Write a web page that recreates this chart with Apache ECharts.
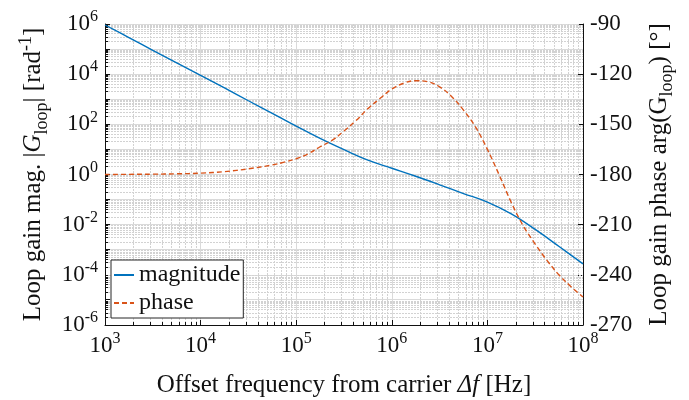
<!DOCTYPE html>
<html><head><meta charset="utf-8">
<script src="https://cdn.jsdelivr.net/npm/echarts@6/dist/echarts.min.js"></script>
<style>html,body{margin:0;padding:0;background:#fff}#c{width:689px;height:400px}</style>
</head><body><div id="c"></div>
<script>
// ---- data ----
const freqMag = [1000, 1778, 3162, 5623, 1e4, 17780, 31620, 56230, 1e5, 177800, 316200, 562300,
  1e6, 1.778e6, 3.162e6, 5.623e6, 1e7, 1.778e7, 3.162e7, 5.623e7, 1e8];
const magnitude = [9.12e5, 2.88e5, 8.91e4, 2.82e4, 8.91e3, 2.82e3, 871, 275, 85.1, 27.5, 9.77, 3.72,
  1.78, 0.851, 0.389, 0.174, 0.0794, 0.0269, 6.46e-3, 1.35e-3, 2.75e-4];
const freqPhase = [1000, 1778, 3162, 5623, 1e4, 17780, 31620, 56230,
  74990, 1e5, 133400, 177800, 237100, 316200, 421700, 562300, 749900,
  1e6, 1.334e6, 1.778e6, 2.371e6, 3.162e6, 4.217e6, 5.623e6, 7.499e6,
  1e7, 1.334e7, 1.778e7, 2.371e7, 3.162e7, 4.217e7, 5.623e7, 7.499e7, 1e8];
const phaseDeg = [-180, -179.9, -179.8, -179.6, -179.2, -178.3, -176.6, -174.3,
  -172.6, -170.6, -167.6, -163.4, -159.6, -154, -147.8, -140.6, -134.6,
  -128.9, -125.4, -123.9, -124.5, -127.6, -133.3, -141.5, -151.5,
  -165, -180.5, -196.7, -210.7, -221.6, -231.5, -240.1, -247.1, -253.3];
const seriesNames = ['magnitude', 'phase'];
const xDecades = [1e3, 1e4, 1e5, 1e6, 1e7, 1e8];                 // x tick labels 10^3 .. 10^8
const yLeftDecades = [1e-6, 1e-4, 1e-2, 1, 1e2, 1e4, 1e6];        // left tick labels
const yRightTicks = [-270, -240, -210, -180, -150, -120, -90];    // right tick labels

// ---- helpers ----
const SERIF = "'Liberation Serif', 'Times New Roman', serif";
const X_MIN = xDecades[0], X_MAX = xDecades[xDecades.length - 1];
const Y_MIN = yLeftDecades[0], Y_MAX = yLeftDecades[yLeftDecades.length - 1];
const xMinor = [], yMinor = [], yAllDecades = [];
for (let i = 0; i < xDecades.length - 1; i++) for (let k = 2; k <= 9; k++) xMinor.push(k * xDecades[i]);
for (let e = -6; e < 6; e++) for (let k = 2; k <= 9; k++) yMinor.push(k * Math.pow(10, e));
for (let e = -5; e < 6; e += 2) yAllDecades.push(Math.pow(10, e));
const MINOR = '#d2d2d2', MAJOR = '#dadada', INK = '#111';
const crisp = v => Math.round(v - 0.5) + 0.5;
const powLabel = v => '{b|10}{s|' + Math.round(Math.log10(v)) + '}';
const tickRich = {
  b: { fontFamily: SERIF, fontSize: 23, color: INK, lineHeight: 30, verticalAlign: 'middle' },
  s: { fontFamily: SERIF, fontSize: 16, color: INK, lineHeight: 16, verticalAlign: 'top' }
};
const nameRich = {
  n: { fontFamily: SERIF, fontSize: 25, color: INK, lineHeight: 34, verticalAlign: 'middle' },
  i: { fontFamily: SERIF, fontSize: 25, color: INK, lineHeight: 34, verticalAlign: 'middle', fontStyle: 'italic' },
  sub: { fontFamily: SERIF, fontSize: 18, color: INK, lineHeight: 17, verticalAlign: 'bottom' },
  sup: { fontFamily: SERIF, fontSize: 18, color: INK, lineHeight: 17, verticalAlign: 'top' }
};

const chart = echarts.init(document.getElementById('c'), null, { renderer: 'canvas' });
chart.setOption({
  animation: false,
  backgroundColor: '#fff',
  grid: { left: 105, right: 106, top: 24, bottom: 75, containLabel: false, outerBoundsMode: 'none' },
  legend: {
    data: seriesNames, orient: 'vertical', left: 111, top: 260,
    padding: [3, 3, 3, 2], itemGap: 4, itemWidth: 20, itemHeight: 14,
    borderColor: '#262626', borderWidth: 1, backgroundColor: '#fff',
    itemStyle: { opacity: 0 },
    textStyle: { fontFamily: SERIF, fontSize: 24, color: INK, lineHeight: 24 }
  },
  xAxis: {
    type: 'log', logBase: 10, min: X_MIN, max: X_MAX, splitNumber: 5,
    name: '{n|Offset frequency from carrier }{i|Δf}{n| [Hz]}', nameLocation: 'middle', nameGap: 43,
    nameTextStyle: { rich: nameRich },
    axisLine: { show: true, onZero: false, lineStyle: { color: INK, width: 1 } },
    axisTick: { show: true, inside: true, length: 5, lineStyle: { color: INK } },
    axisLabel: { margin: 6, formatter: powLabel, rich: tickRich },
    splitLine: { show: true, lineStyle: { color: MAJOR, width: 1 } }
  },
  yAxis: [{
    type: 'log', logBase: 10, min: Y_MIN, max: Y_MAX, interval: 2, position: 'left',
    name: '{n|Loop gain mag. |}{i|G}{sub|loop}{n|| [rad}{sup|-1}{n|]}', nameLocation: 'middle', nameGap: 53, nameRotate: 90,
    nameTextStyle: { rich: nameRich },
    axisLine: { show: true, lineStyle: { color: INK, width: 1 } },
    axisTick: { show: true, inside: true, length: 5, lineStyle: { color: INK }, customValues: yLeftDecades },
    axisLabel: { margin: 7, formatter: powLabel, rich: tickRich, customValues: yLeftDecades },
    splitLine: { show: true, lineStyle: { color: MAJOR, width: 1 } }
  }, {
    type: 'value', min: yRightTicks[0], max: yRightTicks[yRightTicks.length - 1], interval: 30, position: 'right',
    name: '{n|Loop gain phase arg(G}{sub|loop}{n|) [°]}', nameLocation: 'middle', nameGap: 59, nameRotate: 90,
    nameTextStyle: { rich: nameRich },
    axisLine: { show: true, lineStyle: { color: INK, width: 1 } },
    axisTick: { show: true, inside: true, length: 5, lineStyle: { color: INK } },
    axisLabel: { margin: 7, fontFamily: SERIF, fontSize: 23, color: INK },
    splitLine: { show: false }
  }],
  series: [
    {
      type: 'custom', name: 'xminor', xAxisIndex: 0, yAxisIndex: 0, z: 1, silent: true,
      data: xMinor.map(v => [v, 1]), encode: { x: 0, y: 1 },
      renderItem: (params, api) => {
        const v = api.value(0);
        const top = api.coord([v, Y_MAX]), bot = api.coord([v, Y_MIN]);
        const x = crisp(bot[0]);
        return { type: 'group', children: [
          { type: 'line', shape: { x1: x, y1: top[1], x2: x, y2: bot[1] }, style: { stroke: MINOR, lineWidth: 1, lineDash: [2, 1] } },
          { type: 'line', shape: { x1: x, y1: bot[1], x2: x, y2: bot[1] - 3 }, style: { stroke: INK, lineWidth: 1 } }
        ] };
      }
    },
    {
      type: 'custom', name: 'yminor', xAxisIndex: 0, yAxisIndex: 0, z: 1, silent: true,
      data: yMinor.map(v => [X_MIN, v]), encode: { x: 0, y: 1 },
      renderItem: (params, api) => {
        const v = api.value(1);
        const l = api.coord([X_MIN, v]), r = api.coord([X_MAX, v]);
        const y = crisp(l[1]);
        return { type: 'group', children: [
          { type: 'line', shape: { x1: l[0], y1: y, x2: r[0], y2: y }, style: { stroke: MINOR, lineWidth: 1, lineDash: [2, 1] } },
          { type: 'line', shape: { x1: l[0], y1: y, x2: l[0] + 3, y2: y }, style: { stroke: INK, lineWidth: 1 } }
        ] };
      }
    },
    {
      type: 'custom', name: 'yodd', xAxisIndex: 0, yAxisIndex: 0, z: 1, silent: true,
      data: yAllDecades.map(v => [X_MIN, v]), encode: { x: 0, y: 1 },
      renderItem: (params, api) => {
        const v = api.value(1);
        const l = api.coord([X_MIN, v]), r = api.coord([X_MAX, v]);
        const y = crisp(l[1]);
        return { type: 'group', children: [
          { type: 'line', shape: { x1: l[0], y1: y, x2: r[0], y2: y }, style: { stroke: MAJOR, lineWidth: 1 } },
          { type: 'line', shape: { x1: l[0], y1: y, x2: l[0] + 5, y2: y }, style: { stroke: INK, lineWidth: 1 } }
        ] };
      }
    },
    {
      name: seriesNames[0], type: 'line', xAxisIndex: 0, yAxisIndex: 0, z: 3,
      data: freqMag.map((f, i) => [f, magnitude[i]]),
      showSymbol: false, smooth: 0.4,
      lineStyle: { color: '#0072BD', width: 1.4 }, itemStyle: { color: '#0072BD' }
    },
    {
      name: seriesNames[1], type: 'line', xAxisIndex: 0, yAxisIndex: 1, z: 3,
      data: freqPhase.map((f, i) => [f, phaseDeg[i]]),
      showSymbol: false, smooth: 0.4,
      lineStyle: { color: '#D95319', width: 1.4, type: [5, 3] }, itemStyle: { color: '#D95319' }
    }
  ]
});
</script>
</body></html>
